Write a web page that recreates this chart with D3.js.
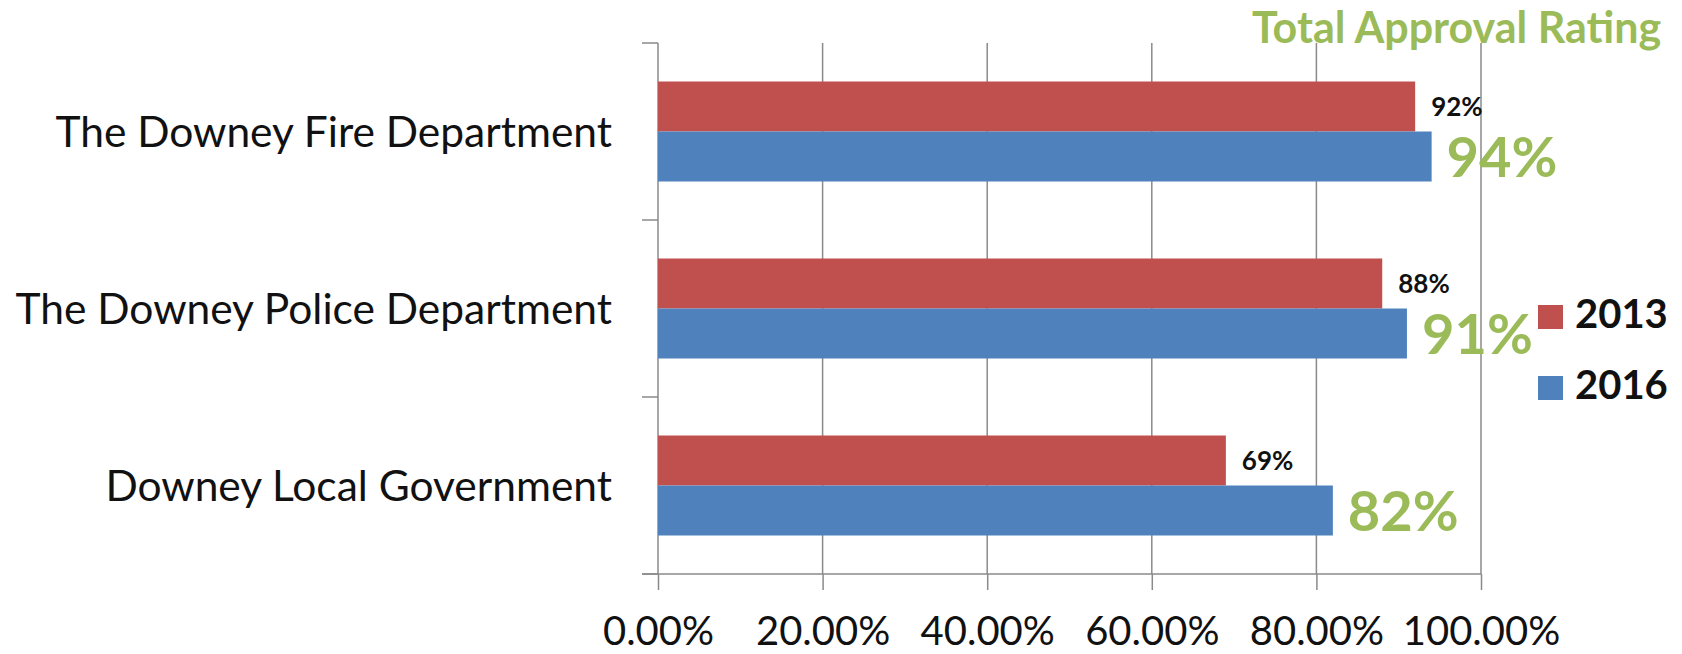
<!DOCTYPE html>
<html>
<head>
<meta charset="utf-8">
<script src="https://cdn.jsdelivr.net/npm/d3@7"></script>
<style>
  html, body { margin: 0; padding: 0; background: #ffffff; }
  svg { display: block; }
  text { font-family: Lato, "Open Sans", sans-serif; }
</style>
</head>
<body>
<svg id="chart" width="1682" height="654"></svg>
<script>
// ---- data ----
const categories = ["The Downey Fire Department", "The Downey Police Department", "Downey Local Government"];
const seriesNames = ["2013", "2016"];
const values2013 = [0.92, 0.88, 0.69];
const values2016 = [0.94, 0.91, 0.82];
const labels2013 = ["92%", "88%", "69%"];
const labels2016 = ["94%", "91%", "82%"];
const xTicks = [0, 0.2, 0.4, 0.6, 0.8, 1.0];
const titleText = "Total Approval Rating";

// ---- styles ----
const colors = { "2013": "#C0504D", "2016": "#4F81BD" };
const green = "#9BBB59";
const gridColor = "#8a8a8a";

const svg = d3.select("#chart");
const margin = { left: 658, right: 1682 - 1481, top: 43, bottom: 654 - 574 };
const W = 1682 - margin.left - margin.right;
const H = 654 - margin.top - margin.bottom;
const g = svg.append("g").attr("transform", `translate(${margin.left},${margin.top})`);

const x = d3.scaleLinear().domain([0, 1]).range([0, W]);
const y = d3.scaleBand().domain(categories).range([0, H]).paddingInner(0).paddingOuter(0);
const inner = d3.scaleBand().domain(seriesNames).range([y.bandwidth() / 2 - 50, y.bandwidth() / 2 + 50]);

// gridlines (behind bars)
g.append("g").selectAll("line").data(xTicks.slice(1)).join("line")
  .attr("x1", d => x(d)).attr("x2", d => x(d))
  .attr("y1", 0).attr("y2", H)
  .attr("stroke", gridColor).attr("stroke-width", 1.5);

// x axis
const xAxis = d3.axisBottom(x).tickValues(xTicks).tickSize(16)
  .tickFormat(d => (d * 100).toFixed(2) + "%");
const gx = g.append("g").attr("transform", `translate(0,${H})`).call(xAxis);
gx.select(".domain").attr("stroke", gridColor).attr("stroke-width", 1.5).attr("d", `M-16,0H${W}`);
gx.selectAll(".tick line").attr("stroke", gridColor).attr("stroke-width", 1.5);
gx.selectAll(".tick text").attr("fill", "#111").style("font-size", "40px")
  .attr("y", 71).attr("dy", "0");

// y axis
const yTickPos = [0, 1, 2, 3];
const gy = g.append("g");
gy.append("line").attr("x1", 0).attr("x2", 0).attr("y1", 0).attr("y2", H)
  .attr("stroke", gridColor).attr("stroke-width", 1.5);
gy.selectAll("line.tk").data(yTickPos).join("line").attr("class", "tk")
  .attr("x1", -16).attr("x2", 0)
  .attr("y1", d => d * y.step()).attr("y2", d => d * y.step())
  .attr("stroke", gridColor).attr("stroke-width", 1.5);
gy.selectAll("text").data(categories).join("text")
  .attr("x", -46).attr("y", d => y(d) + y.bandwidth() / 2)
  .attr("dy", "0.36em").attr("text-anchor", "end")
  .attr("fill", "#111").style("font-size", "42.5px")
  .text(d => d);

// bars
const rows = categories.map((c, i) => ({ cat: c, v13: values2013[i], v16: values2016[i], l13: labels2013[i], l16: labels2016[i] }));
const cg = g.selectAll("g.cat").data(rows).join("g").attr("class", "cat")
  .attr("transform", d => `translate(0,${y(d.cat)})`);

cg.append("rect").attr("x", 0).attr("y", inner("2013")).attr("height", inner.bandwidth())
  .attr("width", d => x(d.v13)).attr("fill", colors["2013"]);
cg.append("rect").attr("x", 0).attr("y", inner("2016")).attr("height", inner.bandwidth())
  .attr("width", d => x(d.v16)).attr("fill", colors["2016"]);

cg.append("text").attr("x", d => x(d.v13) + 16).attr("y", inner("2013") + inner.bandwidth() / 2)
  .attr("dy", "0.36em").attr("fill", "#111").style("font-size", "26px").style("font-weight", "bold")
  .text(d => d.l13);
cg.append("text").attr("x", d => x(d.v16) + 15).attr("y", inner("2016") + inner.bandwidth() / 2)
  .attr("dy", "0.36em").attr("fill", green).style("font-size", "56px").style("font-weight", "bold")
  .text(d => d.l16);

// title
svg.append("text").attr("x", 1252).attr("y", 43).attr("fill", green)
  .style("font-size", "43px").style("font-weight", "bold").text(titleText);

// legend
const lg = svg.append("g").attr("transform", "translate(1538,305)");
const li = lg.selectAll("g").data(seriesNames).join("g").attr("transform", (d, i) => `translate(0,${i * 71})`);
li.append("rect").attr("width", 25).attr("height", 24).attr("fill", d => colors[d]);
li.append("text").attr("x", 37).attr("y", 23).attr("fill", "#111")
  .style("font-size", "40px").style("font-weight", "bold").text(d => d);
</script>
</body>
</html>
